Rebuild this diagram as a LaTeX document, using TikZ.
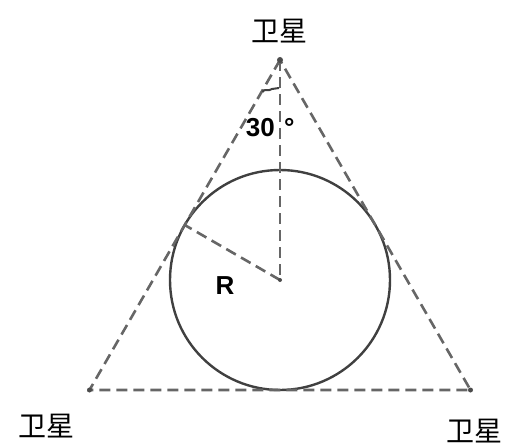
\documentclass[tikz,border=0pt]{standalone}
\usepackage{fontspec}
\usetikzlibrary{calc}
\setmainfont{Liberation Sans}
\newfontfamily\cjk{Noto Sans CJK SC}
\begin{document}
\begin{tikzpicture}[x=1pt,y=-1pt,
  dash line/.style={draw=black!60, line width=2.6pt, dash pattern=on 11pt off 6pt},
  circ line/.style={draw=black!75, line width=2.4pt},
  sat/.style={font=\cjk\fontsize{28}{30}\selectfont, inner sep=0pt},
  lab/.style={font=\bfseries\fontsize{26}{28}\selectfont, inner sep=0pt}]
\useasboundingbox (0,0) rectangle (506,444);
\coordinate (A) at (280,60);
\coordinate (B) at (89.5,390);
\coordinate (C) at (470.5,390);
\coordinate (O) at (280,280);
\coordinate (T) at ($(O)+(-95.3,-55)$);
\draw[circ line] (O) circle (110);
\draw[dash line] (A) -- (B) -- (C) -- cycle;
\draw[dash line] (A) -- (O);
\draw[dash line] (O) -- (T);
\fill[black!70] (A) circle (3);
\fill[black!70] (B) circle (2.5);
\fill[black!70] (C) circle (2.5);
\fill[black!70] (O) circle (2);
\draw[black!75, line width=2pt] (262.5,92) .. controls (264,88) and (268,92) .. (272,89) -- (279,88);
\node[sat] (s1) at (279,31) {卫星};
\node[sat] (s2) at (47,426) {卫星};
\node[sat] (s3) at (474,431) {卫星};
\node[lab, anchor=base east] (ang) at (275,136) {30};
\node[lab, anchor=base west] (deg) at (284,136) {°};
\node[lab] (r) at (225,286) {R};
\end{tikzpicture}
\end{document}
